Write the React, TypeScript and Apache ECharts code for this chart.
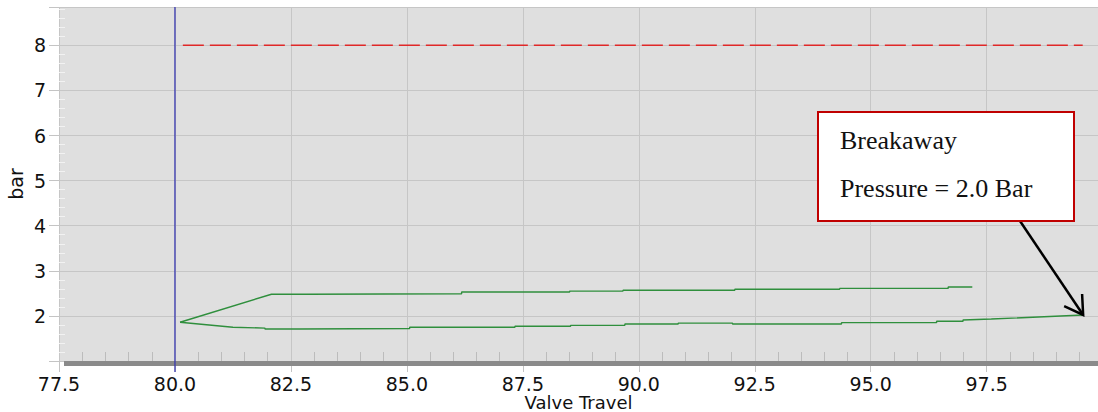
import React, { useEffect, useRef } from 'react';
import * as echarts from 'echarts';

// Valve travel (%) and pressure (bar) for the two branches of the signature
const upperTravel = [80.11, 82.08, 82.84, 82.84, 86.18, 86.18, 88.51, 88.51, 89.66, 89.66, 92.07, 92.07, 94.33, 94.33, 96.67, 96.67, 97.19];
const upperPressure = [1.86, 2.48, 2.48, 2.49, 2.49, 2.53, 2.53, 2.55, 2.55, 2.57, 2.57, 2.59, 2.59, 2.61, 2.61, 2.64, 2.64];

const lowerTravel = [80.11, 81.25, 81.94, 81.94, 82.68, 82.68, 85.06, 85.06, 87.33, 87.33, 88.53, 88.53, 89.70, 89.70, 90.85, 90.85, 92.02, 92.02, 94.37, 94.37, 96.42, 96.42, 96.99, 96.99, 97.60, 99.58];
const lowerPressure = [1.86, 1.75, 1.73, 1.71, 1.71, 1.72, 1.72, 1.75, 1.75, 1.77, 1.77, 1.79, 1.79, 1.82, 1.82, 1.84, 1.84, 1.82, 1.82, 1.85, 1.85, 1.88, 1.88, 1.91, 1.93, 2.02];

// Supply pressure reference (dashed red) and travel marker (blue)
const supplyTravel = [80.17, 99.57];
const supplyPressure = [8.0, 8.0];
const markerTravel = 80.0;

// Breakaway annotation
const breakawayPoint = [99.58, 2.02];
const annotationLines = ['Breakaway', 'Pressure = 2.0 Bar'];

const xMin = 77.5;
const xMax = 99.9;
const xInterval = 2.5;
const yMin = 1;
const yMax = 8.85;
const yInterval = 1;

const zip = (a: number[], b: number[]) => a.map((v, i) => [v, b[i]]);

const FONT = 'DejaVu Sans';

export default function App() {
  const ref = useRef<HTMLDivElement>(null);

  useEffect(() => {
    if (!ref.current) return;
    const chart = echarts.init(ref.current, undefined, { renderer: 'svg' });
    const green = '#2f8f3d';
    const blue = '#3838b0';
    chart.setOption({
      animation: false,
      backgroundColor: '#ffffff',
      grid: {
        left: 59,
        right: 0,
        top: 7,
        bottom: 51,
        show: true,
        backgroundColor: '#dfdfdf',
        borderWidth: 0,
        containLabel: false,
        outerBoundsMode: 'none',
      },
      xAxis: {
        type: 'value',
        min: xMin,
        max: xMax,
        interval: xInterval,
        name: 'Valve Travel',
        nameLocation: 'middle',
        nameGap: 33,
        nameMoveOverlap: false,
        nameTextStyle: { fontFamily: FONT, fontSize: 18, lineHeight: 16, color: '#111' },
        axisLine: { show: false },
        axisTick: { show: true, inside: false, length: 11, lineStyle: { color: '#c4c4c4', width: 1 } },
        minorTick: { show: true, splitNumber: 5, length: -9, lineStyle: { color: '#bcbcbc', width: 1 } },
        axisLabel: {
          margin: 14,
          fontFamily: FONT,
          fontSize: 19,
          lineHeight: 17,
          color: '#111',
          formatter: (v: number) => {
            const k = v / xInterval;
            return Math.abs(k - Math.round(k)) < 1e-6 ? v.toFixed(1) : '';
          },
        },
        splitLine: { show: true, lineStyle: { color: '#c6c6c6', width: 1 } },
      },
      yAxis: {
        type: 'value',
        min: yMin,
        max: yMax,
        interval: yInterval,
        name: 'bar',
        nameLocation: 'middle',
        nameRotate: 90,
        nameGap: 34,
        nameMoveOverlap: false,
        nameTextStyle: { fontFamily: FONT, fontSize: 19, color: '#111' },
        axisLine: { show: false },
        axisTick: { show: true, inside: false, length: 10, lineStyle: { color: '#c4c4c4', width: 1 } },
        minorTick: { show: true, splitNumber: 5, length: -6, lineStyle: { color: '#f2f2f2', width: 1 } },
        axisLabel: {
          margin: 13,
          fontFamily: FONT,
          fontSize: 19,
          color: '#111',
          formatter: (v: number) => (Math.abs(v - Math.round(v)) < 1e-6 && v >= 2 ? String(Math.round(v)) : ''),
        },
        splitLine: { show: true, lineStyle: { color: '#c6c6c6', width: 1 } },
      },
      series: [
        {
          type: 'line',
          data: [[markerTravel, yMin], [markerTravel, yMax]],
          symbol: 'none',
          lineStyle: { color: blue, width: 1.3 },
          z: 3,
        },
        {
          type: 'line',
          data: zip(supplyTravel, supplyPressure),
          symbol: 'none',
          lineStyle: { color: '#e02828', width: 1.5, type: [21, 6] },
          z: 3,
        },
        {
          type: 'line',
          data: zip(upperTravel, upperPressure),
          symbol: 'none',
          lineStyle: { color: green, width: 1.4 },
          z: 4,
        },
        {
          type: 'line',
          data: zip(lowerTravel, lowerPressure),
          symbol: 'none',
          lineStyle: { color: green, width: 1.4 },
          z: 4,
        },
      ],
    });

    const tip = chart.convertToPixel({ gridIndex: 0 }, breakawayPoint) as number[];
    const bottomY = chart.convertToPixel({ gridIndex: 0 }, [xMin, yMin]) as number[];
    const markerPx = chart.convertToPixel({ gridIndex: 0 }, [markerTravel, yMin]) as number[];
    const start = [1020, 221];
    const dx = tip[0] - start[0];
    const dy = tip[1] - start[1];
    const ang = Math.atan2(-dy, -dx);
    const headLen = 21;
    const spread = (31 * Math.PI) / 180;
    const h1 = [tip[0] + headLen * Math.cos(ang + spread), tip[1] + headLen * Math.sin(ang + spread)];
    const h2 = [tip[0] + headLen * Math.cos(ang - spread), tip[1] + headLen * Math.sin(ang - spread)];

    chart.setOption({
      graphic: [
        {
          type: 'rect',
          z: 50,
          shape: { x: 64, y: bottomY[1], width: 1098 - 64, height: 5 },
          style: { fill: '#8a8a8a' },
        },
        {
          type: 'line',
          z: 51,
          shape: { x1: markerPx[0], y1: bottomY[1], x2: markerPx[0], y2: bottomY[1] + 11 },
          style: { stroke: blue, lineWidth: 1.3 },
        },
        {
          type: 'line',
          z: 60,
          shape: { x1: start[0], y1: start[1], x2: tip[0], y2: tip[1] },
          style: { stroke: '#000', lineWidth: 2.5 },
        },
        {
          type: 'polyline',
          z: 60,
          shape: { points: [h1, tip, h2] },
          style: { stroke: '#000', lineWidth: 2.5, fill: null },
        },
        {
          type: 'rect',
          z: 61,
          shape: { x: 818, y: 112, width: 256, height: 109 },
          style: { fill: '#ffffff', stroke: '#c00000', lineWidth: 2 },
        },
        {
          type: 'text',
          z: 62,
          x: 840,
          y: 140,
          style: {
            text: annotationLines[0],
            font: '26px "Liberation Serif"',
            fill: '#111',
            verticalAlign: 'middle',
            align: 'left',
          },
        },
        {
          type: 'text',
          z: 62,
          x: 840,
          y: 188,
          style: {
            text: annotationLines[1],
            font: '26px "Liberation Serif"',
            fill: '#111',
            verticalAlign: 'middle',
            align: 'left',
          },
        },
      ],
    });

    return () => chart.dispose();
  }, []);

  return (
    <div
      ref={ref}
      style={{ position: 'fixed', left: 0, top: 0, width: 1098, height: 412, background: '#fff' }}
    />
  );
}
